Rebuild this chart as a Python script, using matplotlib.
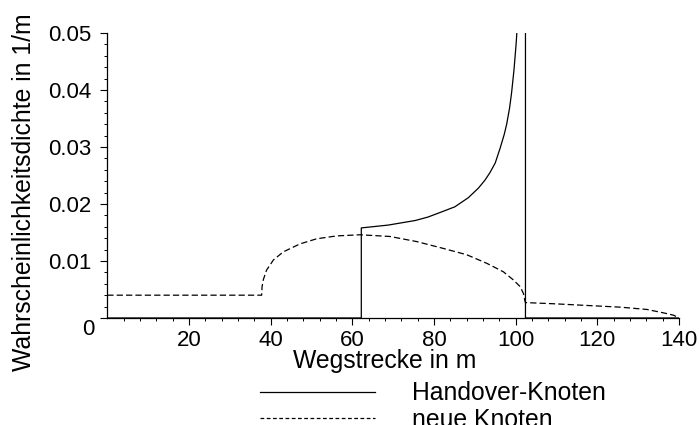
import numpy as np
import matplotlib
matplotlib.use("Agg")
import matplotlib.pyplot as plt
from matplotlib.lines import Line2D
from matplotlib.ticker import FixedLocator

plt.rcParams["font.family"] = ["Liberation Sans", "DejaVu Sans"]

# Handover-Knoten: Null bis 62 m, dann steigender Ast bis zur Polstelle
handover_x = [0, 62.2, 62.2, 68.8, 75.4, 78.5, 81.1, 85.1, 88.4, 90.9, 92.5,
              93.7, 95.0, 96.2, 97.2, 97.8, 98.5, 99.0, 99.6, 100.1, 100.3]
handover_y = [0, 0, 0.0158, 0.0163, 0.0171, 0.0177, 0.0184, 0.0195, 0.0211,
              0.0228, 0.0242, 0.0255, 0.0272, 0.0298, 0.0322, 0.0340, 0.0368,
              0.0395, 0.0436, 0.0480, 0.0501]
# senkrechter Abfall bei 102.4 m, danach wieder Null
drop_x = [102.4, 102.4, 140]
drop_y = [0.05, 0, 0]

# neue Knoten
neu_x = [0, 37.8, 37.9, 38.2, 39.0, 40.7, 43.1, 47.2, 51.3, 56.2, 61.9, 69.2,
         75.8, 82.3, 88.0, 92.9, 97.0, 99.4, 101.1, 101.9, 102.3, 102.4,
         109.2, 117.4, 125.6, 132.1, 136.2, 138.6, 139.8, 140]
neu_y = [0.0040, 0.0040, 0.0055, 0.0067, 0.0084, 0.0102, 0.0116, 0.0130,
         0.0139, 0.0144, 0.0146, 0.0143, 0.0134, 0.0122, 0.0111, 0.0096,
         0.0081, 0.0067, 0.0055, 0.0043, 0.0029, 0.0027, 0.0025, 0.0022,
         0.0019, 0.0015, 0.0009, 0.0005, 0.0001, 0]

x_ticks = [20, 40, 60, 80, 100, 120, 140]
y_ticks = [0, 0.01, 0.02, 0.03, 0.04, 0.05]
y_ticklabels = ["", "0.01", "0.02", "0.03", "0.04", "0.05"]

fig = plt.figure(figsize=(6.99, 4.25), dpi=100)
ax = fig.add_axes([0.1535, 0.2518, 0.8179, 0.6706])

hx = handover_x + [np.nan] + drop_x
hy = handover_y + [np.nan] + drop_y
ax.plot(hx, hy, color="black", lw=0.9)
ax.plot(neu_x, neu_y, color="black", lw=0.9, dashes=(5, 2.5))

ax.set_xlim(0, 140)
ax.set_ylim(0, 0.05)
ax.set_xticks(x_ticks)
ax.set_yticks(y_ticks)
ax.set_yticklabels(y_ticklabels)
ax.xaxis.set_minor_locator(FixedLocator([v for v in np.arange(4, 140, 4) if v % 20]))
ax.yaxis.set_minor_locator(FixedLocator(np.arange(0.002, 0.05, 0.002)))

for s in ["top", "right"]:
    ax.spines[s].set_visible(False)
for s in ["left", "bottom"]:
    ax.spines[s].set_linewidth(0.9)

ax.tick_params(which="major", direction="out", length=5, width=0.8,
               labelsize=16)
ax.tick_params(which="minor", direction="out", length=2.5, width=0.7)
ax.tick_params(axis="y", which="major", pad=6.3)
ax.tick_params(axis="x", which="major", pad=3.5)

# Null im Ursprung, etwas unterhalb der Achse
ax.annotate("0", xy=(0, 0), xytext=(-8.9, -8.4), textcoords="offset points",
            ha="right", va="center", fontsize=16)

ax.set_xlabel("Wegstrecke in m", fontsize=17.8)
ax.xaxis.set_label_coords(0.485, -0.11)
ax.set_ylabel("Wahrscheinlichkeitsdichte in 1/m", fontsize=17.8)
ax.yaxis.set_label_coords(-0.125, 0.44)

handles = [Line2D([], [], color="black", lw=0.9),
           Line2D([], [], color="black", lw=0.9, dashes=(3, 2))]
fig.legend(handles, ["Handover-Knoten", "neue Knoten"], loc="upper left",
           bbox_to_anchor=(260 / 699, 1 - 381.5 / 425), frameon=False,
           fontsize=17.8, borderaxespad=0, borderpad=0, handlelength=4.66,
           handletextpad=1.49, labelspacing=0.1)

fig.savefig("out.png", dpi=100)
